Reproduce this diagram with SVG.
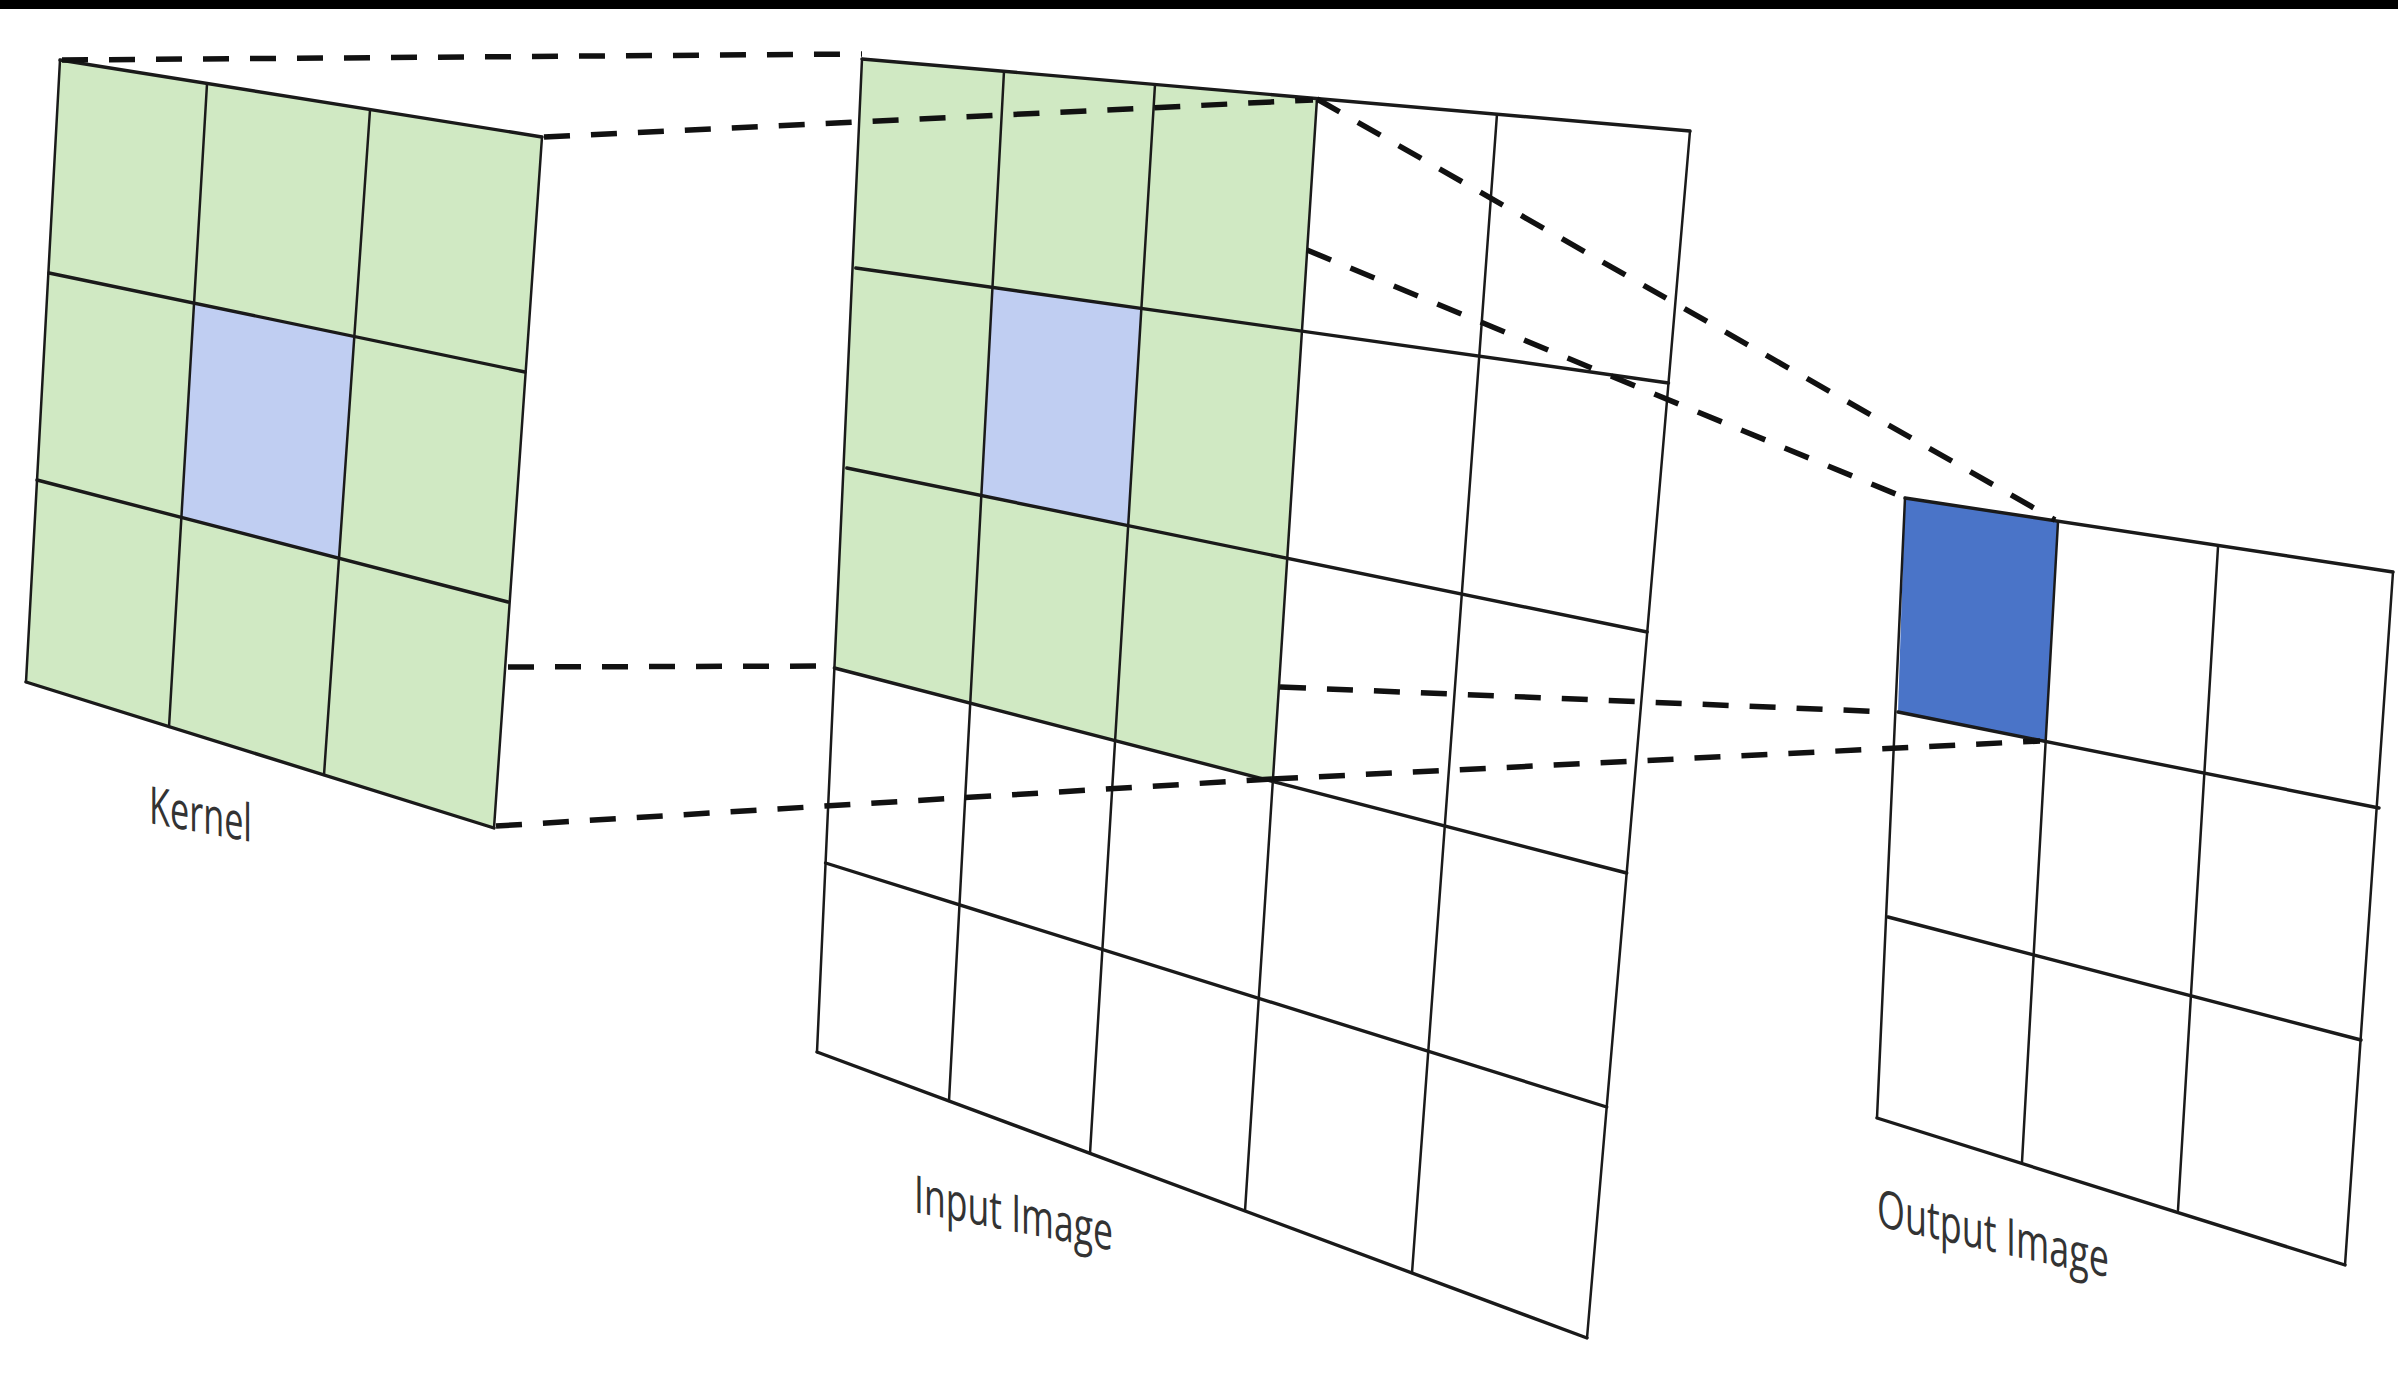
<svg xmlns="http://www.w3.org/2000/svg" width="2398" height="1376" viewBox="0 0 2398 1376">
<style>
.g{fill:#d0e9c3;stroke:none}
.lb{fill:#c0cef2;stroke:none}
.db{fill:#4a74c8;stroke:none}
.h{stroke:#1a1a1a;stroke-width:3.4;fill:none;stroke-linecap:round}
.v{stroke:#1a1a1a;stroke-width:2.5;fill:none;stroke-linecap:round}
.d{stroke:#111;stroke-width:5.5;fill:none;stroke-dasharray:26 21}
.t{font-family:"Open Sans","Noto Sans",sans-serif;font-size:52px;fill:#333}
</style>
<rect x="0" y="0" width="2398" height="1376" fill="#fff"/>
<rect x="0" y="0" width="2398" height="9" fill="#000"/>

<g id="kernel">
<polygon class="g" points="60,60 542,137 494,828 26,682"/>
<polygon class="lb" points="194.1,303.2 354.3,336.6 339,558.2 181.4,517.4"/>
<line class="v" x1="60" y1="60" x2="26" y2="682"/>
<line class="v" x1="207" y1="84" x2="169" y2="727"/>
<line class="v" x1="370" y1="110" x2="324" y2="775"/>
<line class="v" x1="542" y1="137" x2="494" y2="828"/>
<line class="h" x1="60" y1="60" x2="542" y2="137"/>
<line class="h" x1="49" y1="273" x2="525" y2="372"/>
<line class="h" x1="37" y1="480" x2="508" y2="602"/>
<line class="h" x1="26" y1="682" x2="494" y2="828"/>
<g transform="translate(149,823) skewY(10.5)"><text class="t" x="0" y="0" textLength="103" lengthAdjust="spacingAndGlyphs">Kernel</text></g>
</g>

<g id="input-image">
<polygon class="g" points="862,59 1317,98.6 1272.8,781.4 834.4,668"/>
<polygon class="lb" points="992.5,287.3 1141.4,308.4 1128.2,525.7 981.4,495.6"/>
<line class="v" x1="862" y1="59" x2="817" y2="1052"/>
<line class="v" x1="1004" y1="71.3" x2="949" y2="1101"/>
<line class="v" x1="1155" y1="84.5" x2="1090" y2="1153.4"/>
<line class="v" x1="1317" y1="98.6" x2="1245" y2="1211"/>
<line class="v" x1="1497" y1="114.2" x2="1412" y2="1273"/>
<line class="v" x1="1690" y1="131" x2="1587" y2="1338"/>
<line class="h" x1="862" y1="59" x2="1690" y2="131"/>
<line class="h" x1="855.8" y1="268" x2="1668.5" y2="383"/>
<line class="h" x1="846.8" y1="468" x2="1647.2" y2="632"/>
<line class="h" x1="834.4" y1="668" x2="1626.7" y2="873"/>
<line class="h" x1="825.6" y1="863" x2="1606.7" y2="1107"/>
<line class="h" x1="817" y1="1052" x2="1587" y2="1338"/>
<g transform="translate(914,1212) skewY(11)"><text class="t" x="0" y="0" textLength="199" lengthAdjust="spacingAndGlyphs">Input Image</text></g>
</g>

<g id="output-image">
<polygon class="db" points="1905,498 2058,522 2045.5,741.5 1898,712"/>
<line class="v" x1="1905" y1="498" x2="1877" y2="1118"/>
<line class="v" x1="2058" y1="522" x2="2022" y2="1162"/>
<line class="v" x1="2218" y1="547" x2="2178" y2="1210"/>
<line class="v" x1="2393" y1="572" x2="2345" y2="1265"/>
<line class="h" x1="1905" y1="498" x2="2393" y2="572"/>
<line class="h" x1="1898" y1="712" x2="2379" y2="808"/>
<line class="h" x1="1888" y1="917" x2="2361" y2="1040"/>
<line class="h" x1="1877" y1="1118" x2="2345" y2="1265"/>
<g transform="translate(1877,1226) skewY(12.5)"><text class="t" x="0" y="0" textLength="232" lengthAdjust="spacingAndGlyphs">Output Image</text></g>
</g>

<g id="connectors">
<line class="d" x1="62" y1="60" x2="862" y2="54"/>
<line class="d" x1="544" y1="137" x2="1313" y2="100"/>
<line class="d" x1="508" y1="667" x2="834" y2="666"/>
<line class="d" x1="496" y1="826" x2="1272" y2="779"/>
<line class="d" x1="1272" y1="779" x2="2040" y2="741"/>
<line class="d" x1="1280" y1="687" x2="1890" y2="712"/>
<line class="d" x1="1317" y1="99" x2="2055" y2="520"/>
<line class="d" x1="1307" y1="250" x2="1903" y2="497"/>
</g>
</svg>
